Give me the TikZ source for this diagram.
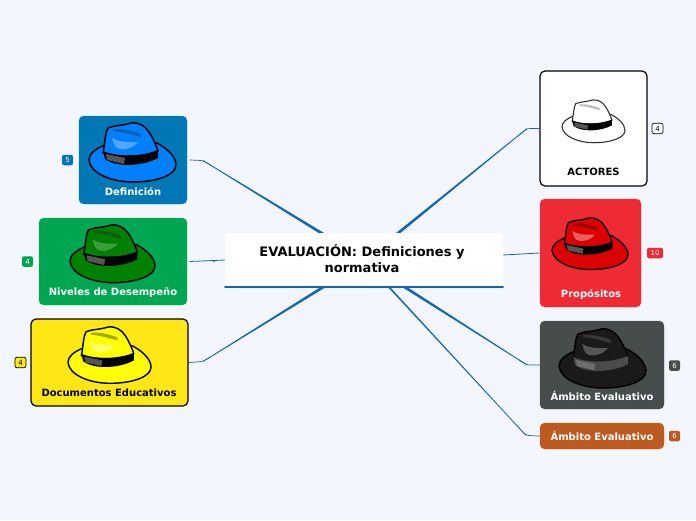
\documentclass[tikz,border=0pt]{standalone}
\usepackage{fontspec}
\setmainfont{DejaVu Sans}
\usetikzlibrary{calc}
\definecolor{bgc}{HTML}{F3F6FE}
\definecolor{linec}{HTML}{1565B5}
\definecolor{defc}{HTML}{0277B6}
\definecolor{nivc}{HTML}{00A651}
\definecolor{docc}{HTML}{FFE614}
\definecolor{proc}{HTML}{EE2A35}
\definecolor{ambc}{HTML}{474D4D}
\definecolor{amoc}{HTML}{BD5A1F}
\definecolor{hBm}{HTML}{007FFF}\definecolor{hBs}{HTML}{0A5FB0}\definecolor{hBl}{HTML}{4DA6FF}
\definecolor{hGm}{HTML}{008000}\definecolor{hGs}{HTML}{0C5A0C}\definecolor{hGl}{HTML}{3C9B3C}
\definecolor{hYm}{HTML}{FFFF00}\definecolor{hYs}{HTML}{A8A800}\definecolor{hYl}{HTML}{FFFF6E}
\definecolor{hWs}{HTML}{BEBEBE}\definecolor{hWo}{HTML}{323232}
\definecolor{hRm}{HTML}{DD0000}\definecolor{hRs}{HTML}{960000}\definecolor{hRl}{HTML}{E86060}
\definecolor{hKm}{HTML}{1A1A1A}\definecolor{hKs}{HTML}{373737}\definecolor{hKl}{HTML}{555555}\definecolor{hKb}{HTML}{4B4B4B}\definecolor{hKp}{HTML}{6E6E6E}
\definecolor{patchc}{HTML}{555555}
\tikzset{
  card/.style={rounded corners=5pt,inner sep=0pt,outer sep=0pt,draw=white,line width=.5pt},
  blackcard/.style={rounded corners=5pt,inner sep=0pt,outer sep=0pt,draw=black,line width=1.2pt},
  cardtext/.style={font=\bfseries\fontsize{10}{12}\selectfont,text=white,inner sep=0pt},
  badge/.style={rounded corners=2pt,inner sep=0pt,outer sep=0pt,font=\fontsize{7}{8}\selectfont,text=white,minimum height=10.5pt,minimum width=11pt},
  topictext/.style={font=\bfseries\fontsize{13}{16}\selectfont,align=center,text=black,inner sep=0pt}
}
% #1 half width at the centre topic, #2 source anchor, #3 bend, #4 end on centre topic
\newcommand{\taper}[4][1.4pt]{%
  \draw[linec,line width=.7pt] (#2) -- ($(#2)!.6!(#3)$) .. controls (#3) .. ($(#3)!.07!(#4)$);
  \fill[linec] ($(#3)!.35pt!90:(#4)$) -- ($(#4)!#1!-90:(#3)$) -- ($(#4)!#1!90:(#3)$) -- ($(#3)!.35pt!-90:(#4)$) -- cycle;
}
% x y scale main stripe light band patch outline
\newcommand{\hatpic}[9]{%
  \begin{scope}[shift={(#1,#2)},scale=#3,line join=round]
    \draw[fill=#4,draw=#9,line width={1.5*#3}] (16,22) .. controls (6,26) and (0,31) .. (0,37) .. controls (1,50) and (22,59) .. (44,59) .. controls (68,59) and (87,52) .. (87,42) .. controls (87,33) and (77,25) .. (68,20) -- cycle;
    \draw[fill=#4,draw=#9,line width={1.5*#3}] (14,30) .. controls (16,20) and (16,10) .. (19,5) .. controls (26,2) and (33,3) .. (42,0) .. controls (50,-1) and (56,3) .. (60,9) .. controls (64,15) and (67,22) .. (69,28) .. controls (60,34) and (30,35) .. (14,30) -- cycle;
    \fill[#5] (24,6) .. controls (34,5) and (44,8) .. (52,11) -- (52,14) .. controls (44,12) and (34,9) .. (24,8) -- cycle;
    \fill[#6] (23,15) .. controls (32,20) and (42,19) .. (49,19) .. controls (44,26) and (32,28) .. (28,25) .. controls (25,23) and (24,18) .. (23,15) -- cycle;
    \fill[#7] (14,28) .. controls (30,35) and (55,33) .. (69,27) -- (69,35) .. controls (55,43) and (28,45) .. (16,36) -- cycle;
    \fill[#8] (17,31) -- (36,35) -- (35,41) -- (18,37) -- cycle;
  \end{scope}%
}
\begin{document}
\begin{tikzpicture}[x=1pt,y=-1pt]
\useasboundingbox (0,0) rectangle (696,520);
\fill[bgc] (0,0) rectangle (696,520);

% coordinates on the centre topic
\node[inner sep=0pt,outer sep=0pt,minimum width=278pt,minimum height=54pt] (centre) at (364,260) {};
\coordinate (cDef) at (323,234);
\coordinate (cAct) at (397,234);
\coordinate (cDoc) at (325,286);
\coordinate (cAm1) at (403,286);
\coordinate (cAm2) at (388,286);

% cards
\node[card,fill=defc,minimum width=109pt,minimum height=89pt] (def) at (133,160) {};
\node[card,fill=nivc,minimum width=149pt,minimum height=88pt] (niv) at (113,261.5) {};
\node[blackcard,fill=docc,minimum width=157pt,minimum height=87pt] (doc) at (109.5,362.5) {};
\node[blackcard,fill=white,minimum width=107pt,minimum height=115pt] (act) at (593.5,128.5) {};
\node[card,fill=proc,minimum width=102pt,minimum height=109pt] (pro) at (590.5,253) {};
\node[card,fill=ambc,minimum width=125pt,minimum height=89pt] (amb) at (602,365) {};
\node[card,fill=amoc,minimum width=125pt,minimum height=27pt] (amo) at (602,436) {};

% connectors
\coordinate (bDef) at (203,160.5);
\coordinate (bDoc) at (203,361.5);
\coordinate (bAct) at (527,128.5);
\coordinate (bAm1) at (527,365);
\coordinate (bAm2) at (526,435.5);
\coordinate (sDef) at ($(def.east)+(2,0)$);
\coordinate (sDoc) at ($(doc.east)+(1,0)$);
\coordinate (sNiv) at ($(niv.east)+(2,0)$);
\coordinate (ePro) at (503,255);
\taper{sDef}{bDef}{cDef}
\taper{sDoc}{bDoc}{cDoc}
\taper{act.west}{bAct}{cAct}
\taper{amb.west}{bAm1}{cAm1}
\taper[.8pt]{amo.west}{bAm2}{cAm2}
\draw[linec,line width=.8pt] (sNiv) -- (centre.west);
\fill[linec] (214,261.3) circle (.9pt);
\draw[linec,line width=.8pt] (pro.west) -- (ePro);

% centre topic
\node[fill=white,rounded corners=1.5pt,inner sep=0pt,minimum width=278pt,minimum height=54pt] at (centre) {};
\draw[linec,line width=2pt,line cap=round] (centre.south west) -- (centre.south east);
\node[topictext] (title) at (362,258.8) {EVALUACIÓN: Definiciones y\\normativa};

% hats
\hatpic{89}{123}{1}{hBm}{hBs}{hBl}{black}{patchc}{black}
\hatpic{70}{225}{.977}{hGm}{hGs}{hGl}{black}{patchc}{black}
\hatpic{68}{327}{.954}{hYm}{hYs}{hYl}{black}{patchc}{black}
\hatpic{562}{100}{.724}{white}{hWs}{white}{black}{patchc}{hWo}
\hatpic{552}{218}{.874}{hRm}{hRs}{hRl}{black}{patchc}{black}
\hatpic{559}{329}{1}{hKm}{hKs}{hKl}{hKb}{hKp}{black}

% card labels
\node[cardtext] (tdef) at (133,191.3) {Definición};
\node[cardtext] (tniv) at (113,292.3) {Niveles de Desempeño};
\node[cardtext,text=black] (tdoc) at (109,392.3) {Documentos Educativos};
\node[cardtext,text=black] (tact) at (593.5,172.3) {ACTORES};
\node[cardtext] (tpro) at (591,294.3) {Propósitos};
\node[cardtext] (tamb) at (602,396.3) {Ámbito Evaluativo};
\node[cardtext] (tamo) at (602,436) {Ámbito Evaluativo};

% badges
\node[badge,fill=defc] (b1) at (67.5,160) {5};
\node[badge,fill=nivc] (b2) at (27.5,261.5) {4};
\node[badge,fill=docc,draw=black,line width=.7pt,text=black] (b3) at (20.5,362.5) {4};
\node[badge,fill=white,draw=black,line width=.6pt,text=black] (b4) at (657.5,128.5) {4};
\node[badge,fill=proc,minimum width=16pt] (b5) at (655,253) {10};
\node[badge,fill=ambc] (b6) at (674.5,365.5) {6};
\node[badge,fill=amoc] (b7) at (674.5,436) {6};
\end{tikzpicture}
\end{document}
